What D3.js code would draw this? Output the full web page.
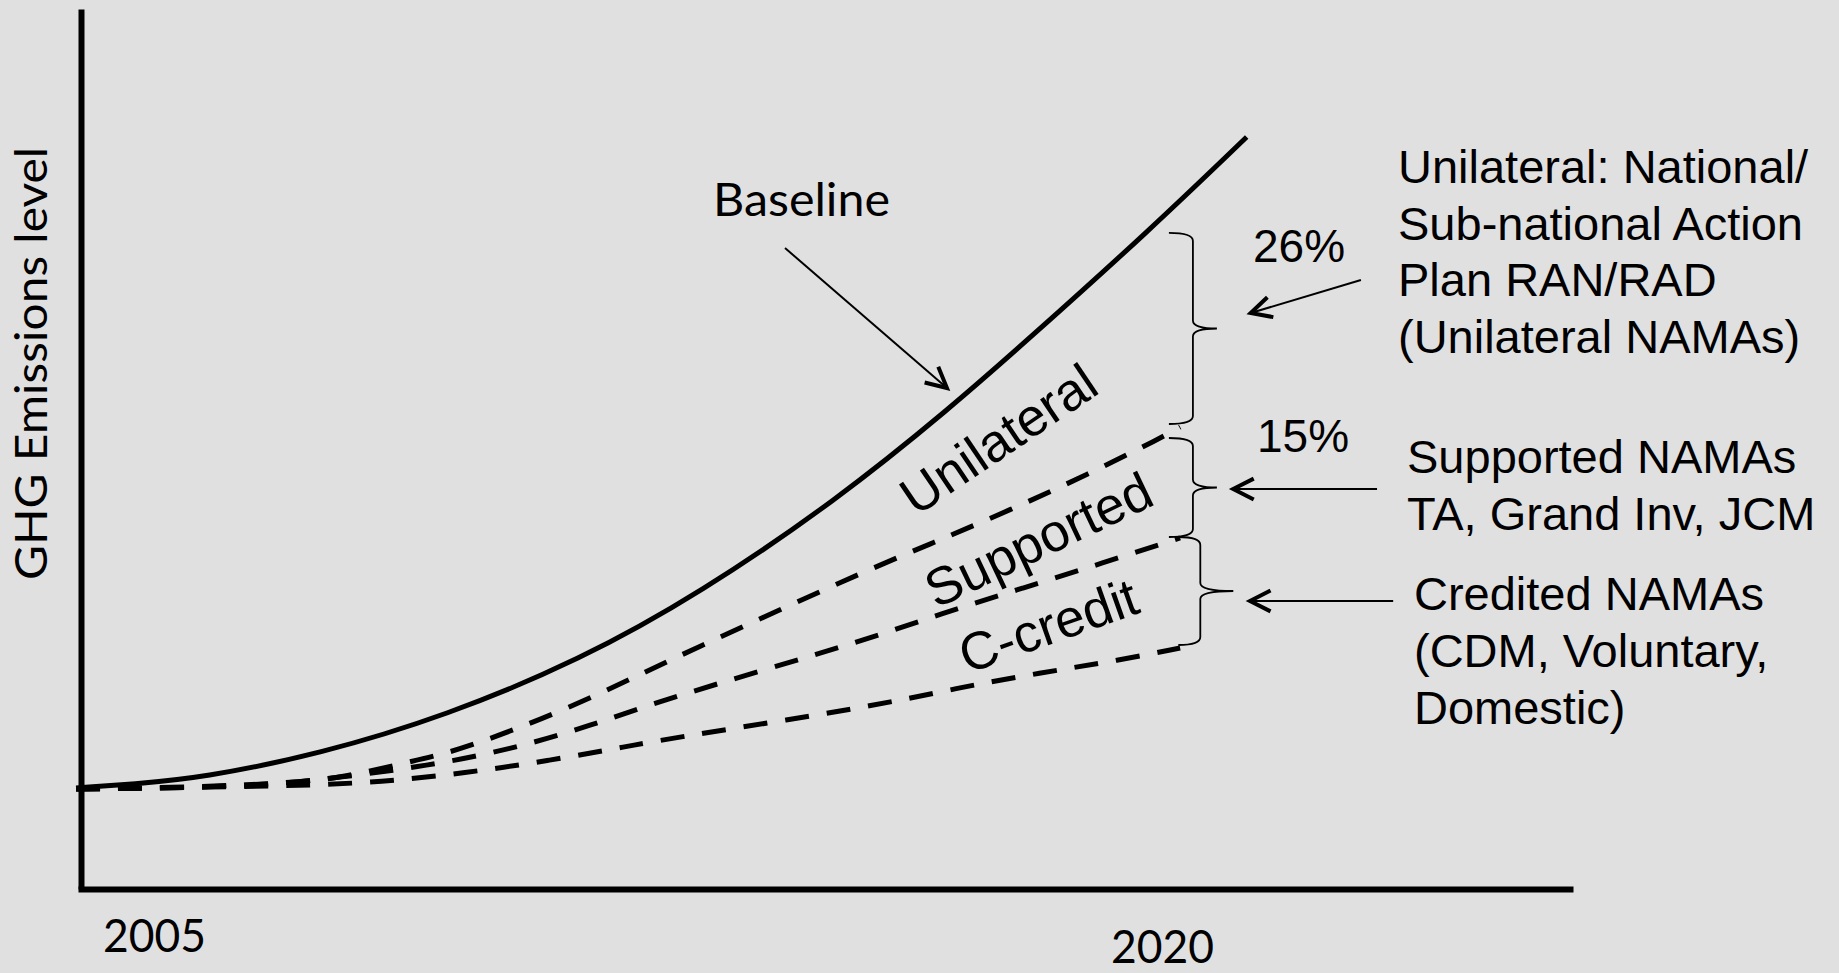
<!DOCTYPE html>
<html>
<head>
<meta charset="utf-8">
<title>GHG Emissions level – NAMA pathways</title>
<script src="https://cdn.jsdelivr.net/npm/d3@7/dist/d3.min.js"></script>
<style>
  html, body { margin: 0; padding: 0; background: #e0e0e0; }
  svg { display: block; }
</style>
</head>
<body>
<svg id="chart" width="1839" height="973"></svg>
<script>
// ---- Data -------------------------------------------------------------
// x: year, y: emission level index (0 = axis origin, 100 = top of axis)

// Business-as-usual emissions
const baselineYears  = [2003.84, 2004.70, 2005.70, 2007.47, 2009.35, 2011.34, 2013.13, 2015.16, 2016.85, 2018.00, 2019.82, 2021.26];
const baselineLevels = [11.48, 11.93, 12.61, 15.34, 19.70, 26.02, 33.64, 44.20, 54.66, 62.39, 74.89, 85.45];

// After unilateral mitigation (upper dashed)
const unilateralYears  = [2003.84, 2005.68, 2007.02, 2007.77, 2008.66, 2009.26, 2009.88, 2011.04, 2012.19, 2012.77, 2015.51, 2016.59, 2017.74, 2018.88, 2020.01, 2020.27];
const unilateralLevels = [11.36, 11.59, 12.05, 12.61, 14.20, 15.23, 16.70, 20.11, 24.20, 26.36, 35.91, 39.32, 43.07, 47.05, 51.36, 52.50];

// After supported mitigation (middle dashed)
const supportedYears  = [2003.84, 2006.43, 2007.83, 2009.05, 2010.28, 2011.49, 2012.69, 2015.51, 2016.74, 2017.93, 2019.12, 2020.27];
const supportedLevels = [11.36, 11.59, 12.73, 13.98, 15.80, 18.52, 21.82, 28.07, 31.36, 34.20, 37.05, 39.89];

// After credited mitigation (lower dashed)
const creditedYears  = [2003.84, 2007.13, 2008.39, 2009.63, 2010.85, 2012.08, 2012.71, 2015.65, 2016.95, 2018.18, 2019.38, 2020.27];
const creditedLevels = [11.36, 11.70, 12.16, 13.18, 14.55, 16.25, 17.16, 20.68, 22.84, 24.55, 26.02, 27.39];

const xTickYears = [2005, 2020];
const yAxisTitle = "GHG Emissions level";
const bandLabels = ["Unilateral", "Supported", "C-credit"];
const bandShares = ["26%", "15%"];

// Braces at 2020: spine year, top level, bottom level
const braceYears   = [2020.46, 2020.46, 2020.57];
const braceTops    = [74.55, 51.25, 40.00];
const braceBottoms = [52.84, 40.00, 27.73];

// Pointer arrows: start (year, level) -> tip (year, level)
const arrowFromYears  = [2014.39, 2022.96, 2023.20, 2023.44];
const arrowFromLevels = [72.84, 69.20, 45.45, 32.73];
const arrowToYears    = [2016.80, 2021.32, 2021.06, 2021.31];
const arrowToLevels   = [56.93, 65.45, 45.45, 32.73];

const unilateralNote = ["Unilateral: National/", "Sub-national Action", "Plan RAN/RAD", "(Unilateral NAMAs)"];
const supportedNote  = ["Supported NAMAs", "TA, Grand Inv, JCM"];
const creditedNote   = ["Credited NAMAs", "(CDM, Voluntary,", "Domestic)"];

// ---- Layout -----------------------------------------------------------
const W = 1839, H = 973;
const plotLeft = 78, plotRight = 1573, plotTop = 9, plotBottom = 889;
const calibriLike = "Lato, Carlito, Calibri, sans-serif";
const arialLike = "'Liberation Sans', Arial, Helvetica, sans-serif";
const ink = "#000";

const svg = d3.select("#chart").attr("viewBox", `0 0 ${W} ${H}`);
svg.append("rect").attr("width", W).attr("height", H).attr("fill", "#e0e0e0");

const x = d3.scaleLinear().domain([2005, 2020]).range([154, 1162]);
const y = d3.scaleLinear().domain([0, 100]).range([plotBottom, plotTop]);

// ---- Axes -------------------------------------------------------------
const xAxisScale = d3.scaleLinear()
  .domain([x.invert(plotLeft), x.invert(plotRight)])
  .range([plotLeft, plotRight]);

const tickLabelBaseline = { 2005: 952, 2020: 963 };

const gx = svg.append("g")
  .attr("transform", `translate(0,${plotBottom})`)
  .call(d3.axisBottom(xAxisScale).tickValues(xTickYears).tickSize(0).tickSizeOuter(0).tickFormat(d3.format("d")));
gx.select(".domain").attr("stroke", ink).attr("stroke-width", 6);
gx.selectAll(".tick text")
  .attr("y", d => tickLabelBaseline[d] - plotBottom)
  .attr("dy", null)
  .attr("fill", ink)
  .style("font-family", calibriLike)
  .style("font-size", "46px")
  .attr("textLength", 103)
  .attr("lengthAdjust", "spacingAndGlyphs");

const gy = svg.append("g")
  .attr("transform", `translate(81,0)`)
  .call(d3.axisLeft(y).tickValues([]).tickSizeOuter(0));
gy.select(".domain").attr("stroke", ink).attr("stroke-width", 6);

svg.append("text")
  .attr("transform", `translate(47,${(147 + 580) / 2}) rotate(-90)`)
  .attr("text-anchor", "middle")
  .attr("fill", ink)
  .style("font-family", calibriLike)
  .style("font-size", "44px")
  .attr("textLength", 433)
  .attr("lengthAdjust", "spacingAndGlyphs")
  .text(yAxisTitle);

// ---- Emission pathways ------------------------------------------------
const line = d3.line()
  .x(d => x(d[0]))
  .y(d => y(d[1]))
  .curve(d3.curveBasis);

const series = [
  { pts: d3.zip(creditedYears, creditedLevels), dash: "24,18" },
  { pts: d3.zip(supportedYears, supportedLevels), dash: "24,18" },
  { pts: d3.zip(unilateralYears, unilateralLevels), dash: "24,18" },
  { pts: d3.zip(baselineYears, baselineLevels), dash: null }
];

svg.append("g").selectAll("path")
  .data(series)
  .join("path")
  .attr("d", d => line(d.pts))
  .attr("fill", "none")
  .attr("stroke", ink)
  .attr("stroke-width", 5)
  .attr("stroke-dasharray", d => d.dash);

// ---- Braces -----------------------------------------------------------
const braceArm = [24, 24, 22];
const braceTip = [24, 24, 33];
function bracePath(sx, t, b, la, rt) {
  const m = (t + b) / 2, r = 8;
  return `M${sx - la},${t} Q${sx},${t} ${sx},${t + r}` +
         ` L${sx},${m - r} Q${sx},${m} ${sx + rt},${m}` +
         ` Q${sx},${m} ${sx},${m + r}` +
         ` L${sx},${b - r} Q${sx},${b} ${sx - la},${b}`;
}
svg.append("g").selectAll("path")
  .data(d3.range(braceYears.length))
  .join("path")
  .attr("d", i => bracePath(x(braceYears[i]), y(braceTops[i]), y(braceBottoms[i]), braceArm[i], braceTip[i]))
  .attr("fill", "none")
  .attr("stroke", ink)
  .attr("stroke-width", 1.8);

// ---- Arrows -----------------------------------------------------------
const arrows = d3.range(arrowFromYears.length).map(i => ({
  x1: x(arrowFromYears[i]), y1: y(arrowFromLevels[i]),
  x2: x(arrowToYears[i]),   y2: y(arrowToLevels[i])
}));
const ga = svg.append("g");
ga.selectAll("line")
  .data(arrows)
  .join("line")
  .attr("x1", d => d.x1).attr("y1", d => d.y1)
  .attr("x2", d => d.x2).attr("y2", d => d.y2)
  .attr("stroke", ink).attr("stroke-width", 2);
ga.selectAll("path")
  .data(arrows)
  .join("path")
  .attr("d", d => {
    const a = Math.atan2(d.y2 - d.y1, d.x2 - d.x1) + Math.PI;
    const len = 23, spread = 0.47;
    const p1 = [d.x2 + len * Math.cos(a + spread), d.y2 + len * Math.sin(a + spread)];
    const p2 = [d.x2 + len * Math.cos(a - spread), d.y2 + len * Math.sin(a - spread)];
    return `M${p1[0]},${p1[1]} L${d.x2},${d.y2} L${p2[0]},${p2[1]}`;
  })
  .attr("fill", "none")
  .attr("stroke", ink)
  .attr("stroke-width", 4)
  .attr("stroke-linejoin", "miter")
  .attr("stroke-linecap", "butt");

// ---- Labels -----------------------------------------------------------
svg.append("text")
  .attr("x", 713).attr("y", 216)
  .attr("fill", ink)
  .style("font-family", calibriLike)
  .style("font-size", "47px")
  .attr("textLength", 177)
  .attr("lengthAdjust", "spacingAndGlyphs")
  .text("Baseline");

const bandPlacement = [
  { x: 916, y: 517, angle: -34 },
  { x: 936, y: 609, angle: -25.5 },
  { x: 967, y: 674, angle: -19.5 }
];
svg.append("g").selectAll("text")
  .data(bandLabels)
  .join("text")
  .attr("transform", (d, i) => `translate(${bandPlacement[i].x},${bandPlacement[i].y}) rotate(${bandPlacement[i].angle})`)
  .attr("fill", ink)
  .style("font-family", arialLike)
  .style("font-size", "53px")
  .text(d => d);

const sharePlacement = [{ x: 1253, y: 262 }, { x: 1257, y: 452 }];
svg.append("g").selectAll("text")
  .data(bandShares)
  .join("text")
  .attr("x", (d, i) => sharePlacement[i].x)
  .attr("y", (d, i) => sharePlacement[i].y)
  .attr("fill", ink)
  .style("font-family", arialLike)
  .style("font-size", "46px")
  .text(d => d);

function note(lines, x0, y0, step) {
  svg.append("g").selectAll("text")
    .data(lines)
    .join("text")
    .attr("x", x0)
    .attr("y", (d, i) => y0 + i * step)
    .attr("fill", ink)
    .style("font-family", arialLike)
    .style("font-size", "47px")
    .text(d => d);
}
note(unilateralNote, 1398, 183, 56.5);
note(supportedNote, 1407, 473, 56.5);
note(creditedNote, 1414, 610, 57);
</script>
</body>
</html>
